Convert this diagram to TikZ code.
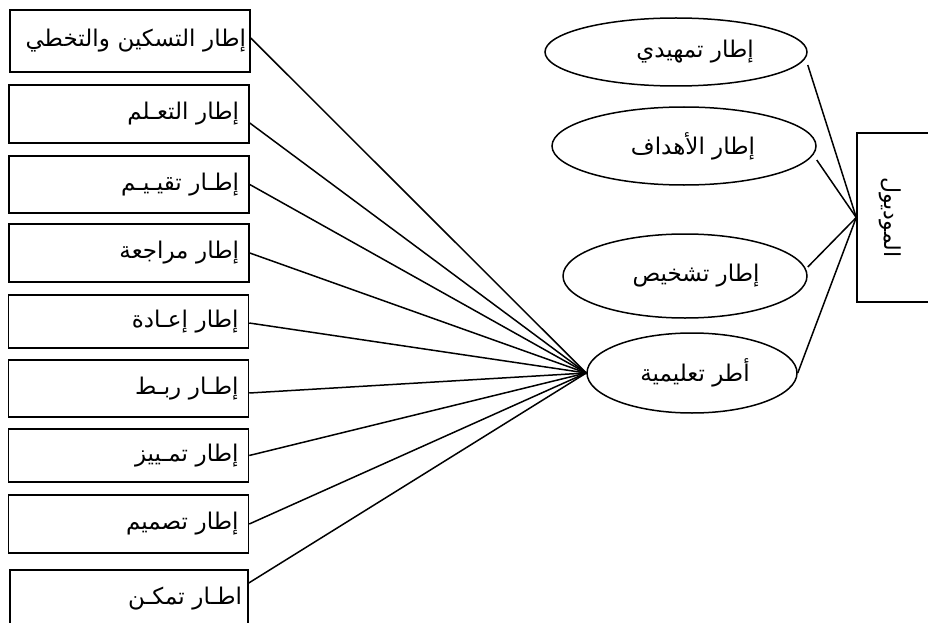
\documentclass[tikz,border=0pt]{standalone}
\usepackage{fontspec}
\newfontfamily\arabicfont[Script=Arabic]{DejaVu Sans}
\TeXXeTstate=1
\usetikzlibrary{shapes.geometric}
\begin{document}
\begin{tikzpicture}[x=1pt,y=-1pt,line width=1.5pt,
  arfont/.style={font=\arabicfont\fontsize{23}{26}\selectfont},
  frame/.style={draw,rectangle,arfont,text width=220pt,inner xsep=10pt,inner ysep=0pt,align=right},
  oval/.style={draw,ellipse,arfont,inner sep=0pt},
  link/.style={line width=1.5pt}]
\useasboundingbox (0,0) rectangle (928,623);
\clip (0,0) rectangle (928,623);
% left boxes
\node[frame,text width=232pt,inner xsep=4pt,minimum height=62pt] (b1) at (130,41) {\beginR إطار التسكين والتخطي\endR};
\node[frame,minimum height=58pt] (b2) at (129,114) {\beginR إطار التعـلم\endR};
\node[frame,minimum height=57pt] (b3) at (129,184.5) {\beginR إطـار تقيـيـم\endR};
\node[frame,minimum height=58pt] (b4) at (129,253) {\beginR إطار مراجعة\endR};
\node[frame,minimum height=53pt] (b5) at (128.5,321.5) {\beginR إطار إعـادة\endR};
\node[frame,minimum height=57pt] (b6) at (128.5,388.5) {\beginR إطـار ربـط\endR};
\node[frame,minimum height=53pt] (b7) at (128.5,455.5) {\beginR إطار تمـييز\endR};
\node[frame,minimum height=58pt] (b8) at (128.5,524) {\beginR إطار تصميم\endR};
\node[frame,text width=226pt,inner xsep=6pt,minimum height=58pt] (b9) at (129,599) {\beginR اطـار تمكـن\endR};
% ellipses
\node[oval,minimum width=262pt,minimum height=68pt] (e1) at (676,52) {\hspace*{38pt}\beginR إطار تمهيدي\endR};
\node[oval,minimum width=264pt,minimum height=78pt] (e2) at (684,146) {\hspace*{18pt}\beginR إطار الأهداف\endR};
\node[oval,minimum width=244pt,minimum height=84pt] (e3) at (685,276) {\hspace*{22pt}\beginR إطار تشخيص\endR};
\node[oval,minimum width=210pt,minimum height=80pt] (e4) at (692,373) {\hspace*{6pt}\beginR أطر تعليمية\endR};
% module box
\node[draw,rectangle,inner sep=0pt,minimum width=76pt,minimum height=169pt] (mod) at (895,217.5)
  {\rotatebox{-90}{\arabicfont\fontsize{22}{26}\selectfont\beginR الموديول\endR}\hspace*{10pt}};
% connectors left
\draw[link] ([yshift=3pt]b1.east) -- (e4.west);
\draw[link] ([yshift=-9pt]b2.east) -- (e4.west);
\draw[link] (b3.east) -- (e4.west);
\draw[link] (b4.east) -- (e4.west);
\draw[link] ([yshift=-1.5pt]b5.east) -- (e4.west);
\draw[link] ([yshift=-4.5pt]b6.east) -- (e4.west);
\draw[link] (b7.east) -- (e4.west);
\draw[link] (b8.east) -- (e4.west);
\draw[link] ([yshift=16pt]b9.east) -- (e4.west);
% connectors right
\draw[link] ([yshift=-13pt]e1.east) -- (mod.west);
\draw[link] ([yshift=-14pt]e2.east) -- (mod.west);
\draw[link] ([yshift=9pt]e3.east) -- (mod.west);
\draw[link] (e4.east) -- (mod.west);
\end{tikzpicture}
\end{document}
